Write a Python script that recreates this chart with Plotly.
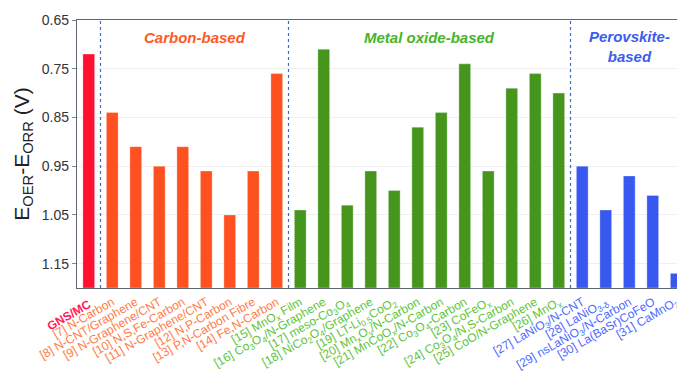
import plotly.graph_objects as go

# ---- data ----
ref_label = ["<b>GNS/MC</b>"]
ref_value = [0.72]

carbon_labels = ["[7] N-Carbon", "[8] N-CNT/Graphene", "[9] N-Graphene/CNT",
                 "[10] N,S,Fe-Carbon", "[11] N-Graphene/CNT", "[12] N,P-Carbon",
                 "[13] P,N-Carbon Fibre", "[14] Fe,N-Carbon"]
carbon_values = [0.84, 0.91, 0.95, 0.91, 0.96, 1.05, 0.96, 0.76]

oxide_labels = ["[15] MnO<sub>x</sub> Film", "[16] Co<sub>3</sub>O<sub>4</sub>/N-Graphene",
                "[17] meso-Co<sub>3</sub>O<sub>4</sub>", "[18] NiCo<sub>2</sub>O<sub>4</sub>/Graphene",
                "[19] LT-Li<sub>0.5</sub>CoO<sub>2</sub>", "[20] Mn<sub>x</sub>O<sub>y</sub>/N-Carbon",
                "[21] MnCoO<sub>x</sub>/N-Carbon", "[22] Co<sub>3</sub>O<sub>4</sub>-Carbon",
                "[23] CoFeO<sub>x</sub>", "[24] Co<sub>3</sub>O<sub>4</sub>/N,S-Carbon",
                "[25] CoO/N-Graphene", "[26] MnO<sub>x</sub>"]
oxide_values = [1.04, 0.71, 1.03, 0.96, 1.00, 0.87, 0.84, 0.74, 0.96, 0.79, 0.76, 0.80]

perov_labels = ["[27] LaNiO<sub>3</sub>/N-CNT", "[28] LaNiO<sub>3-δ</sub>",
                "[29] nsLaNiO<sub>3</sub>/N-Carbon", "[30] La(BaSr)CoFeO",
                "[31] CaMnO<sub>3</sub>"]
perov_values = [0.95, 1.04, 0.97, 1.01, 1.17]

y_ticks = [0.65, 0.75, 0.85, 0.95, 1.05, 1.15]
y_base = 1.2

groups = [
    (ref_label, ref_value, "#FF1030", "#FF1A55"),
    (carbon_labels, carbon_values, "#FF5020", "#FF7A45"),
    (oxide_labels, oxide_values, "#46961E", "#5CC43A"),
    (perov_labels, perov_values, "#3858F0", "#4A6AFF"),
]

fig = go.Figure()
start = 0
n_total = sum(len(g[0]) for g in groups)
axis_names = ["x", "x2", "x3", "x4"]
for i, (labels, values, bar_col, lab_col) in enumerate(groups):
    xs = list(range(start, start + len(labels)))
    fig.add_trace(go.Bar(
        x=xs, y=[y_base - v for v in values], base=values,
        width=0.5, marker=dict(color=bar_col, line=dict(color="rgba(255,255,255,0.5)", width=0.6)),
        xaxis=axis_names[i], yaxis="y", showlegend=False,
    ))
    ax = dict(
        range=[-0.5, n_total - 0.5], tickmode="array", tickvals=xs, ticktext=labels,
        tickangle=-30, tickfont=dict(family="Liberation Sans, Arial", size=12, color=lab_col),
        showgrid=False, zeroline=False, ticks="", ticklabelstandoff=4,
    )
    if i == 0:
        ax.update(showline=True, mirror=True, linecolor="#5f6870", linewidth=1.3)
        fig.update_layout(xaxis=ax)
    else:
        ax.update(overlaying="x", anchor="y", showline=False)
        fig.update_layout(**{"xaxis%d" % (i + 1): ax})
    start += len(labels)

fig.update_layout(
    width=685, height=375,
    margin=dict(l=69, r=4, t=10, b=95),
    plot_bgcolor="white", paper_bgcolor="white",
    yaxis=dict(
        range=[y_base, 0.65], tickvals=y_ticks, ticktext=["%.2f" % t for t in y_ticks],
        tickfont=dict(family="Liberation Sans, Arial", size=14, color="#333333"),
        showgrid=True, gridcolor="#efefef", gridwidth=1, zeroline=False,
        showline=True, mirror=True, linecolor="#5f6870", linewidth=1.3,
        ticks="outside", ticklen=4, tickcolor="#888888",
        title=dict(text="E<sub>OER</sub>-E<sub>ORR</sub> (V)",
                   font=dict(family="Liberation Sans, Arial", size=21, color="#222222"),
                   standoff=6),
    ),
    bargap=0.5,
)

# group dividers
for xv in [0.5, 8.5, 20.5]:
    fig.add_shape(type="line", xref="x", yref="paper", x0=xv, x1=xv, y0=0, y1=1,
                  line=dict(color="#3a6cc8", width=1.2, dash="dot"))

title_font = dict(family="Liberation Sans, Arial", size=15)
fig.add_annotation(x=4.5, y=0.686, xref="x", yref="y", text="<b><i>Carbon-based</i></b>",
                   showarrow=False, font=dict(color="#FF5A25", **title_font))
fig.add_annotation(x=14.5, y=0.686, xref="x", yref="y", text="<b><i>Metal oxide-based</i></b>",
                   showarrow=False, font=dict(color="#46B42A", **title_font))
fig.add_annotation(x=23, y=0.704, xref="x", yref="y", text="<b><i>Perovskite-<br>based</i></b>",
                   showarrow=False, font=dict(color="#3A5CF0", **title_font))

fig.write_html("out.html")
